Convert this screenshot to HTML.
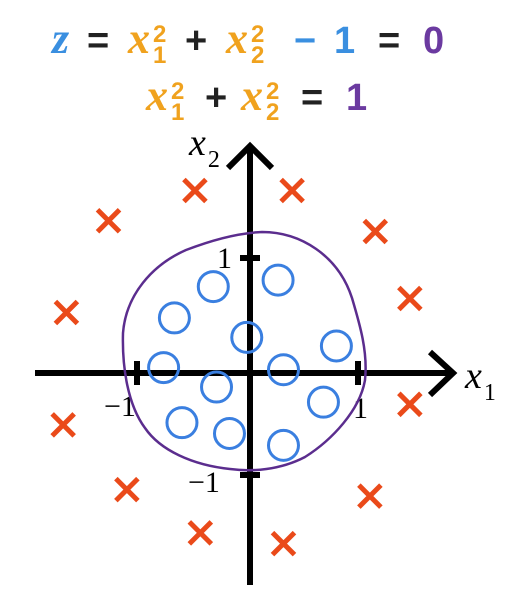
<!DOCTYPE html>
<html><head><meta charset="utf-8"><style>
html,body{margin:0;padding:0;background:#fff;width:531px;height:613px;overflow:hidden}
svg{display:block}
.x{font-family:"Liberation Serif",serif;font-size:44px;font-weight:bold;font-style:italic;fill:#f0a21e}
.m{font-family:"Liberation Sans",sans-serif;font-weight:bold;font-size:38px}
.s{font-family:"Liberation Sans",sans-serif;font-weight:bold;font-size:24px;fill:#f0a21e}
.t{font-family:"Liberation Serif",serif;font-size:30px}
</style></head><body>
<svg id="chart" width="531" height="613" viewBox="0 0 531 613" xmlns="http://www.w3.org/2000/svg">
<g>
<text x="52" y="53" class="x" style="fill:#3a8fe0">z</text>
<text x="87" y="53" class="m" fill="#222">=</text>
<text x="128" y="53" class="x">x</text>
<text x="153" y="42" class="s">2</text>
<text x="153" y="63" class="s">1</text>
<text x="185" y="53" class="m" fill="#222">+</text>
<text x="226" y="53" class="x">x</text>
<text x="251" y="42" class="s">2</text>
<text x="251" y="63" class="s">2</text>
<text x="294" y="53" class="m" fill="#3a8fe0">−</text>
<text x="334" y="53" class="m" fill="#3a8fe0">1</text>
<text x="378" y="53" class="m" fill="#222">=</text>
<text x="423" y="53" class="m" fill="#6b3aa0">0</text>
</g>
<g>
<text x="146" y="110" class="x">x</text>
<text x="171" y="99" class="s">2</text>
<text x="171" y="120" class="s">1</text>
<text x="205" y="110" class="m" fill="#222">+</text>
<text x="241" y="110" class="x">x</text>
<text x="266" y="99" class="s">2</text>
<text x="266" y="120" class="s">2</text>
<text x="301" y="110" class="m" fill="#222">=</text>
<text x="346" y="110" class="m" fill="#6b3aa0">1</text>
</g>
<g id="axes">
<line x1="35" y1="373" x2="453" y2="373" stroke="#000" stroke-width="6"/>
<polyline points="430,352 453,373 430,395" fill="none" stroke="#000" stroke-width="6"/>
<line x1="250" y1="146" x2="250" y2="585" stroke="#000" stroke-width="6"/>
<polyline points="228,168 250,146 272,168" fill="none" stroke="#000" stroke-width="6"/>
<line x1="137" y1="361" x2="137" y2="385" stroke="#000" stroke-width="6"/>
<line x1="358" y1="361" x2="358" y2="385" stroke="#000" stroke-width="6"/>
<line x1="240" y1="258" x2="260" y2="258" stroke="#000" stroke-width="6"/>
<line x1="240" y1="475" x2="260" y2="475" stroke="#000" stroke-width="6"/>
<text x="217" y="268" class="t">1</text>
<text x="104" y="416" class="t">−1</text>
<text x="353" y="418" class="t">1</text>
<text x="188" y="492" class="t">−1</text>
<text x="189" y="155" font-family="Liberation Serif,serif" font-style="italic" font-size="38">x<tspan font-style="normal" font-size="24" dx="2" dy="12">2</tspan></text>
<text x="465" y="388" font-family="Liberation Serif,serif" font-style="italic" font-size="38">x<tspan font-style="normal" font-size="24" dx="2" dy="12">1</tspan></text>
</g>
<path d="M262,232 C300,232 338,255 352,298 C360,325 368,352 365,380 C360,410 332,440 305,457 C280,470 252,472 230,469 C192,465 160,450 145,428 C128,405 122,368 123,333 C126,295 152,265 186,250 C212,240 238,233 262,232 Z" fill="none" stroke="#5b2d8e" stroke-width="2.5"/>
<g id="marks"></g>
</svg>
<script>
const circleX=[-0.34,0.26,-0.70,-0.03,0.80,-0.80,0.31,-0.31,0.68,-0.63,-0.19,0.31];
const circleY=[0.80,0.86,0.51,0.33,0.25,0.05,0.03,-0.13,-0.27,-0.46,-0.56,-0.67];
const crossX=[-0.51,0.39,-1.31,1.16,1.48,-1.70,1.48,-1.73,-1.14,1.11,-0.46,0.31];
const crossY=[1.69,1.69,1.41,1.31,0.69,0.56,-0.29,-0.48,-1.08,-1.14,-1.48,-1.58];
const ox=250,oy=373,unit=108;
function sx(v){return ox+v*unit;}
function sy(v){return oy-v*unit;}
const NS="http://www.w3.org/2000/svg";
const g=document.getElementById('marks');
circleX.forEach((x,i)=>{
  const c=document.createElementNS(NS,'circle');
  
  
  c.setAttribute('cx',sx(x));c.setAttribute('cy',sy(circleY[i]));c.setAttribute('r',15);
  c.setAttribute('fill','none');c.setAttribute('stroke','#3a7fe0');c.setAttribute('stroke-width','3');
  g.appendChild(c);
});
crossX.forEach((x,i)=>{
  const cx=sx(x),cy=sy(crossY[i]),s=11;
  const p=document.createElementNS(NS,'path');
  
  
  p.setAttribute('d',`M${cx-s},${cy-s}L${cx+s},${cy+s}M${cx+s},${cy-s}L${cx-s},${cy+s}`);
  p.setAttribute('stroke','#ea4a1a');p.setAttribute('stroke-width','5');
  g.appendChild(p);
});
</script>
</body></html>
